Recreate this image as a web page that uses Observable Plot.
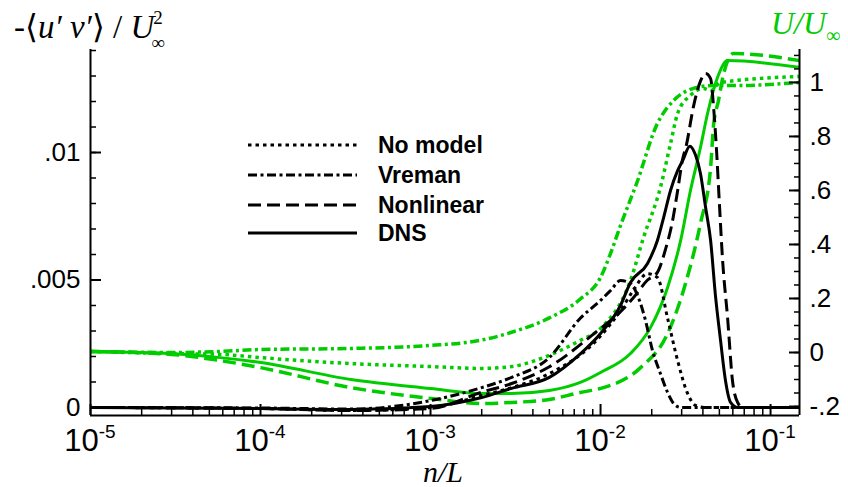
<!DOCTYPE html>
<html><head><meta charset="utf-8">
<script src="https://cdn.jsdelivr.net/npm/d3@7"></script>
<script src="https://cdn.jsdelivr.net/npm/@observablehq/plot@0.6"></script>
<style>
body{margin:0;background:#fff;}
#chart{position:relative;width:848px;height:487px;}
</style></head><body><div id="chart"></div>
<script>
// ---- data ----
// Reynolds shear stress -<u'v'>/U^2 (left axis)
const stressDNS_n = [1e-5,1e-4,3.4e-4,1e-3,2e-3,3e-3,5e-3,7.6e-3,0.01,0.0131,0.015,0.0189,0.0216,0.0235,0.0258,0.0284,0.0305,0.0335,0.0362,0.0387,0.0415,0.0444,0.0474,0.0508,0.0543,0.0582,0.064,0.148];
const stressDNS_v = [0,-0.00004,-0.00008,0.00004,0.00039,0.00075,0.00118,0.0021,0.0029,0.0040,0.0049,0.00565,0.00655,0.00745,0.00851,0.00929,0.0097,0.01025,0.0099,0.00918,0.00784,0.00655,0.0044,0.00263,0.00106,0.0002,0,0];

const stressNonlin_n = [1e-5,1e-4,3.4e-4,1e-3,2e-3,3e-3,5e-3,0.01,0.0119,0.0156,0.0189,0.0216,0.0241,0.0263,0.0284,0.0303,0.032,0.0352,0.0387,0.0415,0.0444,0.0462,0.0481,0.0501,0.0522,0.0559,0.0597,0.064,0.0684,0.148];
const stressNonlin_v = [0,-0.00004,-0.00012,-0.00004,0.0006,0.00094,0.0016,0.0031,0.0035,0.0043,0.0050,0.0053,0.0062,0.0072,0.0085,0.0097,0.0103,0.0118,0.0128,0.0131,0.0129,0.0118,0.0101,0.0079,0.0058,0.0035,0.00106,0.0002,0,0];

const stressVreman_n = [1e-5,1e-4,3.4e-4,1e-3,2e-3,3e-3,5e-3,7.6e-3,0.01,0.0115,0.0131,0.015,0.0165,0.0184,0.0202,0.0225,0.0248,0.0269,0.0296,0.148];
const stressVreman_v = [0,-0.00002,-0.00006,0.00027,0.00078,0.00118,0.00196,0.0035,0.0042,0.0046,0.00498,0.00486,0.0044,0.0034,0.00224,0.00133,0.00059,0.00016,0,0];

const stressNoModel_n = [1e-5,1e-4,3.4e-4,1e-3,2e-3,3e-3,5e-3,0.01,0.0131,0.0156,0.0189,0.0216,0.0248,0.0284,0.0325,0.0362,0.0415,0.148];
const stressNoModel_v = [0,-0.00004,-0.00012,0,0.00047,0.00078,0.00133,0.0028,0.0038,0.0046,0.00525,0.0051,0.0035,0.00184,0.00055,0.00008,0,0];

// Mean velocity U/U_inf (right axis)
const velDNS_n = [1e-5,3e-5,5.8e-5,1e-4,3.4e-4,1e-3,2e-3,3e-3,5e-3,7.6e-3,0.01,0.015,0.0197,0.0248,0.0296,0.0338,0.0387,0.0426,0.0488,0.0559,0.148];
const velDNS_u = [0.004,-0.004,-0.019,-0.037,-0.1,-0.133,-0.152,-0.152,-0.141,-0.111,-0.074,-0.004,0.093,0.241,0.415,0.6,0.759,0.885,1.019,1.081,1.056];

const velNonlin_n = [1e-5,3e-5,5.8e-5,1e-4,3.4e-4,1e-3,2e-3,3e-3,5e-3,7.6e-3,0.01,0.0172,0.0248,0.032,0.0387,0.0444,0.0462,0.0494,0.053,0.0605,0.148];
const velNonlin_u = [0.004,-0.007,-0.03,-0.056,-0.13,-0.17,-0.189,-0.185,-0.174,-0.148,-0.133,-0.056,0.07,0.267,0.478,0.685,0.841,0.933,1.033,1.107,1.081];

const velNoModel_n = [1e-5,3e-5,5.8e-5,1e-4,3.4e-4,1e-3,2e-3,3e-3,5e-3,7.6e-3,0.01,0.015,0.0179,0.0225,0.0258,0.0284,0.0338,0.0404,0.0444,0.0508,0.148];
const velNoModel_u = [0.004,-0.004,-0.007,-0.019,-0.041,-0.052,-0.059,-0.052,-0.01,0.045,0.089,0.267,0.426,0.611,0.774,0.885,0.952,0.978,0.970,1.0,1.022];

const velVreman_n = [1e-5,3e-5,5.8e-5,1e-4,3.4e-4,1e-3,2e-3,3e-3,5e-3,7.6e-3,0.01,0.0115,0.0131,0.0163,0.0216,0.0269,0.0352,0.0462,0.0667,0.148];
const velVreman_u = [0.004,0.0,0.004,0.011,0.015,0.026,0.046,0.075,0.128,0.198,0.278,0.37,0.47,0.626,0.848,0.933,0.978,0.989,0.989,1.0];

// axes / ticks
const leftMajor = [0, 0.005, 0.01];
const leftMinor = d3.range(0, 0.01401, 0.001);
const rightMajor = [-0.2, 0, 0.2, 0.4, 0.6, 0.8, 1];
const rightMinor = d3.range(-0.2, 1.101, 0.05);
const xMajor = [1e-5, 1e-4, 1e-3, 1e-2, 1e-1];
const xMajorExp = ["-5", "-4", "-3", "-2", "-1"];
const xMinor = [];
for (const d of [1e-5, 1e-4, 1e-3, 1e-2, 1e-1]) for (let k = 2; k <= 9; k++) if (d * k <= 0.148) xMinor.push(d * k);
const legendNames = ["No model", "Vreman", "Nonlinear", "DNS"];

// ---- layout ----
const W = 848, H = 487, mL = 90, mR = 49, mT = 49, mB = 72;
const xDomain = [1e-5, 0.148];
const yLeftDomain = [-0.000314, 0.01404];
const yRightDomain = [-0.2333, 1.122];
const uToY = u => yLeftDomain[0] + (u - yRightDomain[0]) / (yRightDomain[1] - yRightDomain[0]) * (yLeftDomain[1] - yLeftDomain[0]);
const yToU = y => yRightDomain[0] + (y - yLeftDomain[0]) / (yLeftDomain[1] - yLeftDomain[0]) * (yRightDomain[1] - yRightDomain[0]);

const GREEN = "#00cc00";
const styles = {
  "No model": {dash: "3.5,4"},
  "Vreman": {dash: "9,3.5,3,3.5"},
  "Nonlinear": {dash: "13,6"},
  "DNS": {dash: null}
};

const rows = (ns, vs) => ns.map((n, i) => ({n, v: vs[i]}));
const urows = (ns, us) => ns.map((n, i) => ({n, v: uToY(us[i])}));

const series = [
  {name: "No model", data: urows(velNoModel_n, velNoModel_u), color: GREEN, w: 3.5},
  {name: "Vreman", data: urows(velVreman_n, velVreman_u), color: GREEN, w: 3.5},
  {name: "Nonlinear", data: urows(velNonlin_n, velNonlin_u), color: GREEN, w: 3.5},
  {name: "DNS", data: urows(velDNS_n, velDNS_u), color: GREEN, w: 3},
  {name: "No model", data: rows(stressNoModel_n, stressNoModel_v), color: "#000", w: 3},
  {name: "Vreman", data: rows(stressVreman_n, stressVreman_v), color: "#000", w: 3},
  {name: "Nonlinear", data: rows(stressNonlin_n, stressNonlin_v), color: "#000", w: 3},
  {name: "DNS", data: rows(stressDNS_n, stressDNS_v), color: "#000", w: 3}
];

const fmtNum = v => {
  const r = Math.round(v * 1e6) / 1e6;
  return String(r).replace(/^(-?)0\./, "$1.");
};

const plot = Plot.plot({
  width: W, height: H,
  marginLeft: mL, marginRight: mR, marginTop: mT, marginBottom: mB,
  style: {fontFamily: "'Liberation Sans', Arial, Helvetica, sans-serif", fontSize: "26px", color: "#000", background: "#fff", overflow: "visible"},
  x: {type: "log", domain: xDomain},
  y: {domain: yLeftDomain},
  marks: [
    ...series.map(s => Plot.line(s.data, {x: "n", y: "v", stroke: s.color, strokeWidth: s.w, strokeDasharray: styles[s.name].dash, curve: "monotone-x", strokeLinecap: "butt", strokeLinejoin: "round", clip: true})),
    Plot.axisY(leftMinor, {anchor: "left", tickSize: -6, tickPadding: 0, tickFormat: () => "", strokeWidth: 1.5, label: null}),
    Plot.axisY(leftMajor, {anchor: "left", tickSize: -11, tickPadding: 21, tickFormat: fmtNum, strokeWidth: 2, label: null}),
    Plot.axisY(rightMinor.map(uToY), {anchor: "right", tickSize: -6, tickPadding: 0, tickFormat: () => "", strokeWidth: 1.5, label: null}),
    Plot.axisY(rightMajor.map(uToY), {anchor: "right", tickSize: -11, tickPadding: 21, tickFormat: d => fmtNum(Math.round(yToU(d) * 10) / 10), textAnchor: "start", strokeWidth: 2, label: null}),
    Plot.axisX(xMinor, {anchor: "bottom", tickSize: -6, tickPadding: 0, tickFormat: () => "", strokeWidth: 1.5, label: null}),
    Plot.axisX(xMajor, {anchor: "bottom", tickSize: -11, tickPadding: 0, tickFormat: () => "", strokeWidth: 2, label: null}),
    Plot.ruleX([xDomain[0], xDomain[1]], {stroke: "#000", strokeWidth: 2}),
    Plot.ruleY([yLeftDomain[0]], {stroke: "#000", strokeWidth: 2})
  ]
});

document.getElementById("chart").appendChild(plot);
const svg = d3.select(plot);
const xs = plot.scale("x");
const SERIF = "'Liberation Serif', 'Times New Roman', serif";
const SANS = "'Liberation Sans', Arial, sans-serif";

// x tick labels 10^k
xMajor.forEach((v, i) => {
  const t = svg.append("text")
    .attr("x", xs.apply(v)).attr("y", H - mB + 36)
    .attr("text-anchor", "middle")
    .style("font-family", SANS).style("font-size", "31px");
  t.append("tspan").text("10");
  t.append("tspan").attr("dy", -13).style("font-size", "19px").text(xMajorExp[i]);
});

// x axis title
svg.append("text").attr("x", 443).attr("y", H - 5).attr("text-anchor", "middle")
  .style("font-family", SERIF).style("font-style", "italic").style("font-size", "30px")
  .text("n/L");

// left title (main part, then stacked super/subscript)
const lt = svg.append("text").attr("x", 14).attr("y", 38).attr("text-anchor", "start")
  .style("font-family", SERIF).style("font-size", "33px");
lt.append("tspan").text("-\u27E8");
lt.append("tspan").style("font-style", "italic").text("u\u2032 v\u2032");
lt.append("tspan").text("\u27E9 / ");
lt.append("tspan").style("font-style", "italic").text("U");
const ltEnd = lt.node().getComputedTextLength() + 14;
svg.append("text").attr("x", ltEnd - 1).attr("y", 24).attr("text-anchor", "start")
  .style("font-family", SERIF).style("font-size", "19px").text("2");
svg.append("text").attr("x", ltEnd - 3).attr("y", 49).attr("text-anchor", "start")
  .style("font-family", SERIF).style("font-size", "19px").text("\u221E");

// right title
const rt = svg.append("text").attr("x", 771).attr("y", 34).attr("text-anchor", "start").attr("fill", GREEN)
  .style("font-family", SERIF).style("font-style", "italic").style("font-size", "32px");
rt.append("tspan").text("U/U");
rt.append("tspan").attr("dy", 8).style("font-size", "20px").style("font-style", "normal").text("\u221E");

// legend
const legY = [145, 175, 205, 233];
legendNames.forEach((name, i) => {
  svg.append("line").attr("x1", 248).attr("x2", 357).attr("y1", legY[i]).attr("y2", legY[i])
    .attr("stroke", "#000").attr("stroke-width", 3).attr("stroke-dasharray", styles[name].dash);
  svg.append("text").attr("x", 378).attr("y", legY[i] + 8).attr("text-anchor", "start")
    .style("font-family", SANS).style("font-weight", "bold").style("font-size", "23px")
    .text(name);
});
</script></body></html>
